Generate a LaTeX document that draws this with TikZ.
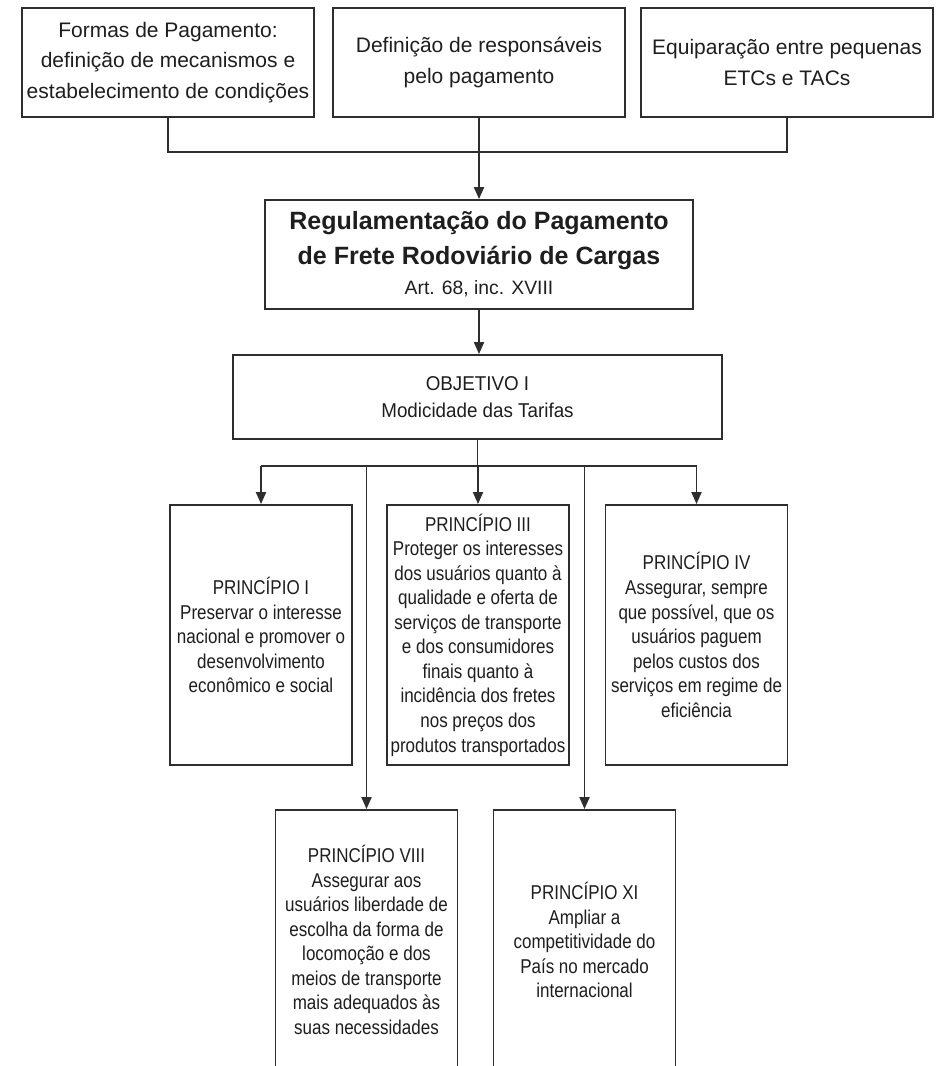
\documentclass[tikz,border=0pt]{standalone}
\usepackage{fontspec}
\setmainfont{Liberation Sans}
\newfontfamily\condfont[FakeStretch=0.85]{Liberation Sans}
\newfontfamily\objfont[FakeStretch=0.94]{Liberation Sans}
\usetikzlibrary{arrows.meta}
\definecolor{ink}{HTML}{1E1E1E}
\definecolor{edge}{HTML}{2E2E2E}
\tikzset{
  box/.style={draw=edge, line width=1.4pt, fill=white, rectangle, inner sep=0pt,
    align=center, text=ink},
  topbox/.style={box, minimum width=219pt, minimum height=81.75pt,
    font={\fontsize{15.75pt}{23pt}\selectfont}},
  regbox/.style={box, minimum width=321pt, minimum height=81.75pt,
    font={\bfseries\fontsize{18.75pt}{26.25pt}\selectfont}},
  objbox/.style={box, minimum width=366.75pt, minimum height=63pt,
    font={\objfont\fontsize{15pt}{20.25pt}\selectfont}},
  princbox/.style={box, minimum width=136.5pt, minimum height=195pt,
    font={\condfont\fontsize{15pt}{18.4pt}\selectfont}},
  link/.style={draw=edge, line width=1.4pt},
  arr/.style={link, -{Triangle[length=9pt, width=7.5pt]}},
}
\begin{document}
\begin{tikzpicture}[x=0.75pt, y=-0.75pt]
\useasboundingbox (0,0) rectangle (935,1066);
\clip (0,0) rectangle (935,1066);
\fill[white] (0,0) rectangle (935,1066);

% top row
\node[topbox] (b1) at (168,62.5) {Formas de Pagamento:\\definição de mecanismos e\\estabelecimento de condições};
\node[topbox] (b2) at (479,62.5) {Definição de responsáveis\\pelo pagamento};
\node[topbox] (b3) at (787,62.5) {Equiparação entre pequenas\\ETCs e TACs};

% central chain
\node[regbox] (reg) at (479,254.5) {Regulamentação do Pagamento\\de Frete Rodoviário de Cargas\\[-4pt]{\mdseries\fontsize{14.5pt}{18pt}\selectfont Art. 68, inc. XVIII}};
\node[objbox] (obj) at (477.5,397) {OBJETIVO I\\Modicidade das Tarifas};

% principles
\node[princbox] (p1) at (261,635) {PRINCÍPIO I\\Preservar o interesse\\nacional e promover o\\desenvolvimento\\econômico e social};
\node[princbox] (p3) at (478,635) {PRINCÍPIO III\\Proteger os interesses\\dos usuários quanto à\\qualidade e oferta de\\serviços de transporte\\e dos consumidores\\finais quanto à\\incidência dos fretes\\nos preços dos\\produtos transportados};
\node[princbox] (p4) at (696.5,635) {PRINCÍPIO IV\\Assegurar, sempre\\que possível, que os\\usuários paguem\\pelos custos dos\\serviços em regime de\\eficiência};
\node[princbox] (p8) at (366.5,940) {PRINCÍPIO VIII\\Assegurar aos\\usuários liberdade de\\escolha da forma de\\locomoção e dos\\meios de transporte\\mais adequados às\\suas necessidades};
\node[princbox] (p11) at (584.5,940) {PRINCÍPIO XI\\Ampliar a\\competitividade do\\País no mercado\\internacional};

% bus levels
\coordinate (tbus) at (479,152);
\coordinate (bus) at (478,466);

% connectors, top
\draw[link] (b1.south) |- (tbus) -| (b3.south);
\draw[arr] (b2.south) -- (reg.north);
\draw[arr] (reg.south) -- (reg.south |- obj.north);

% connectors, objective to principles
\draw[link] (obj.south) -- (obj.south |- bus);
\draw[link] (p1.north |- bus) -- (p4.north |- bus);
\draw[arr] (p1.north |- bus) -- (p1.north);
\draw[arr] (p3.north |- bus) -- (p3.north);
\draw[arr] (p4.north |- bus) -- (p4.north);
\draw[arr] (p8.north |- bus) -- (p8.north);
\draw[arr] (p11.north |- bus) -- (p11.north);
\end{tikzpicture}
\end{document}
